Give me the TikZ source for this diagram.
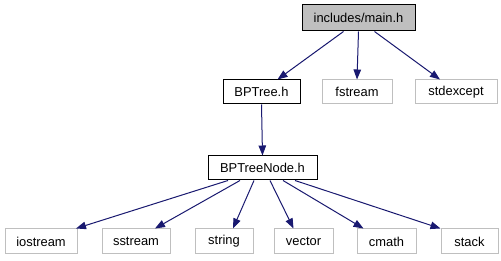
\documentclass[tikz,border=0pt]{standalone}
\usepackage{fontspec}
\setmainfont{Liberation Sans}
\usetikzlibrary{arrows.meta}
\definecolor{edgeblue}{HTML}{191970}
\definecolor{lightframe}{HTML}{BFBFBF}
\definecolor{rootfill}{HTML}{BFBFBF}
\begin{document}
\begin{tikzpicture}[x=1pt,y=1pt,
  filebox/.style={draw=black, line width=1pt, minimum height=24pt, inner sep=0pt,
    font=\fontsize{12.9}{15}\selectfont},
  rootbox/.style={filebox, fill=rootfill, minimum height=26pt},
  sysbox/.style={filebox, draw=lightframe},
  dep/.style={draw=edgeblue, line width=1pt,
    -{Triangle[length=10pt,width=7.5pt]}}]
\useasboundingbox (0,0) rectangle (501,-261);
\fill[white] (0,0) rectangle (501,-261);

% header nodes
\node[rootbox, minimum width=113pt] (main) at (358.5,-18) {includes/main.h};
\node[filebox, minimum width=77pt] (bptree) at (261.5,-92) {BPTree.h};
\node[sysbox, minimum width=70pt] (fstream) at (357,-92) {fstream};
\node[sysbox, minimum width=82pt] (stdexcept) at (456,-92) {stdexcept};
\node[filebox, minimum width=109pt] (node) at (262.5,-168) {BPTreeNode.h};

% standard library headers
\node[sysbox, minimum width=72pt, minimum height=25pt] (iostream) at (41,-241.5) {iostream};
\node[sysbox, minimum width=68pt, minimum height=25pt] (sstream) at (136,-241.5) {sstream};
\node[sysbox, minimum width=58pt, minimum height=25pt] (string) at (224,-241.5) {string};
\node[sysbox, minimum width=59pt, minimum height=25pt] (vector) at (303.5,-241.5) {vector};
\node[sysbox, minimum width=59pt, minimum height=25pt] (cmath) at (386.5,-241.5) {cmath};
\node[sysbox, minimum width=57pt, minimum height=25pt] (stack) at (469.5,-241.5) {stack};

% include edges
\draw[dep] ([xshift=-15pt]main.south) -- ([xshift=16pt]bptree.north);
\draw[dep] (main.south) -- (fstream.north);
\draw[dep] ([xshift=16pt]main.south) -- ([xshift=-16pt]stdexcept.north);
\draw[dep] (bptree.south) -- (node.north);
\draw[dep] ([xshift=-34.5pt]node.south) -- ([xshift=35pt]iostream.north);
\draw[dep] ([xshift=-22.5pt]node.south) -- ([xshift=19pt]sstream.north);
\draw[dep] ([xshift=-8.5pt]node.south) -- ([xshift=9pt]string.north);
\draw[dep] ([xshift=7.5pt]node.south) -- ([xshift=-10pt]vector.north);
\draw[dep] ([xshift=20.5pt]node.south) -- ([xshift=-23pt]cmath.north);
\draw[dep] ([xshift=32.5pt]node.south) -- ([xshift=-29pt]stack.north);
\end{tikzpicture}
\end{document}
